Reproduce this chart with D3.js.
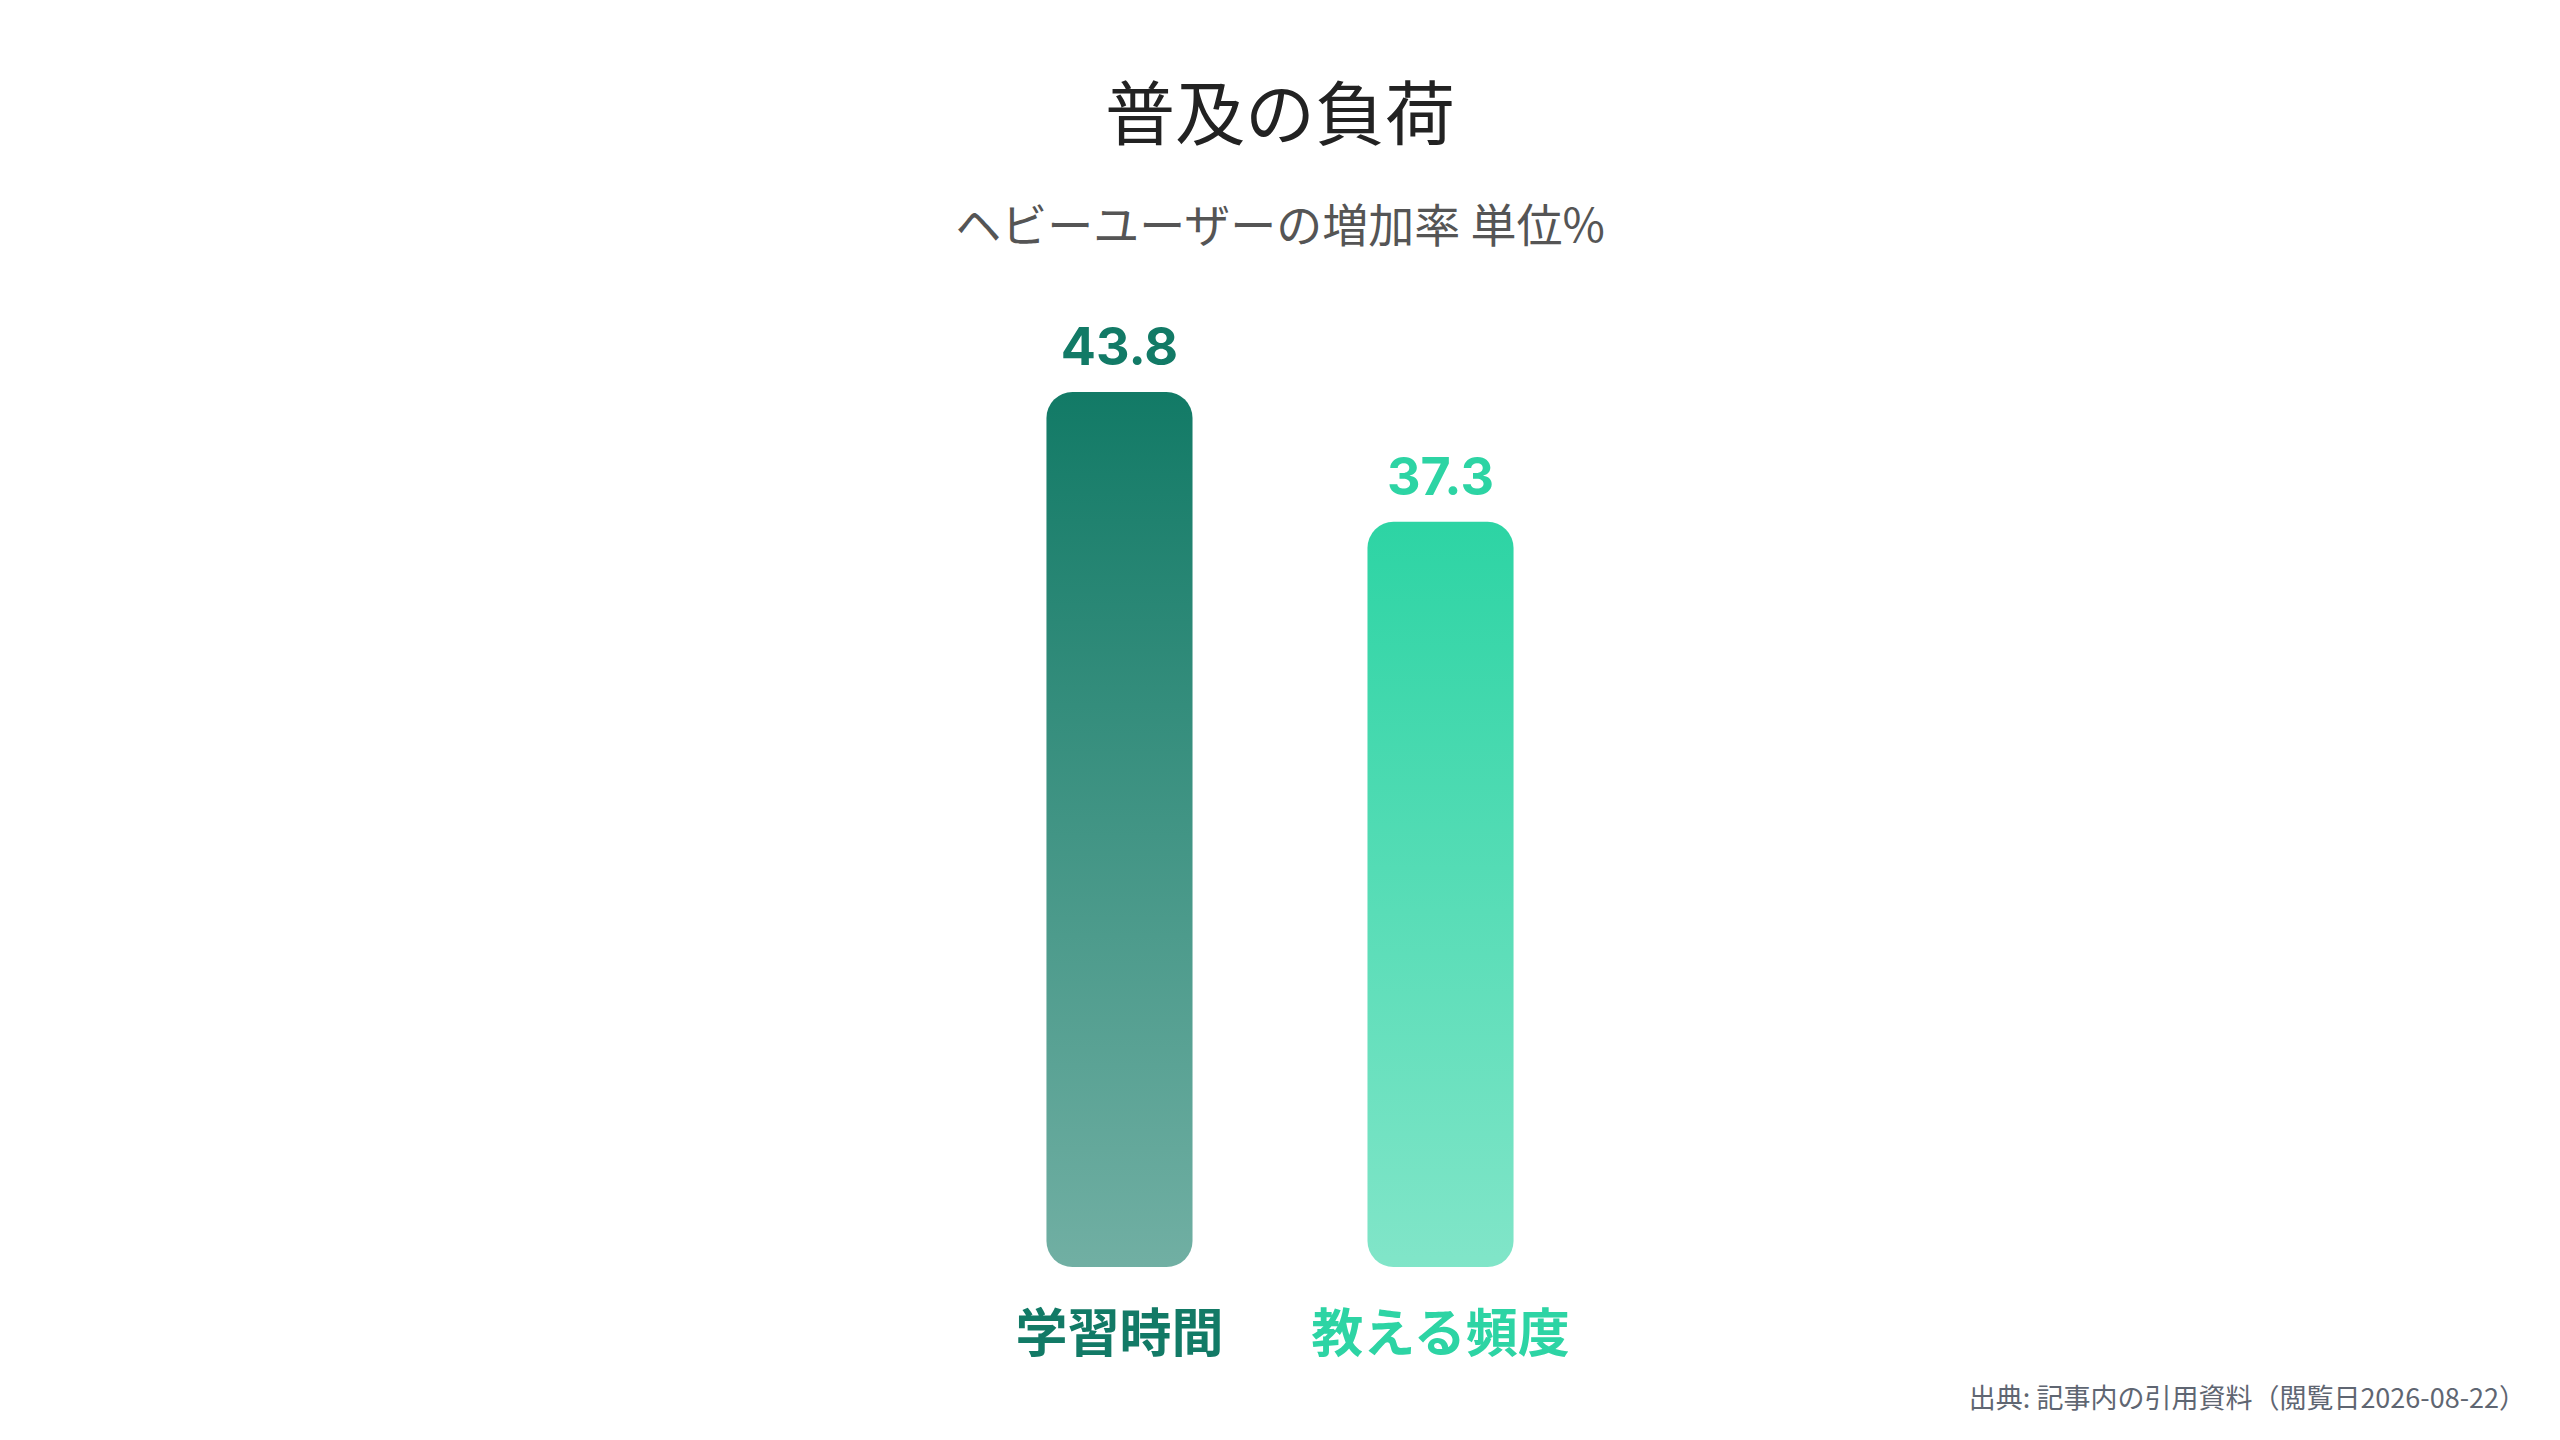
<!DOCTYPE html>
<html>
<head>
<meta charset="utf-8">
<script src="https://cdn.jsdelivr.net/npm/d3@7"></script>
<style>
  body { margin: 0; background: #fff; }
  text { font-family: "Noto Sans CJK JP", "Noto Sans", sans-serif; }
</style>
</head>
<body>
<div id="chart"></div>
<script>
var categories = ["学習時間", "教える頻度"];
var values = [43.8, 37.3];
var barColors = ["#127A66", "#2DD4A4"];

var width = 2560, height = 1440;

var svg = d3.select("#chart").append("svg")
  .attr("width", width)
  .attr("height", height);

var x = d3.scaleBand()
  .domain(categories)
  .range([871.5, 1688.5])
  .padding(0.545);

var y = d3.scaleLinear()
  .domain([0, 43.8])
  .range([1267, 392]);

// gradients, full colour at the top fading toward the bottom
var defs = svg.append("defs");
categories.forEach(function(c, i){
  var g = defs.append("linearGradient")
    .attr("id", "grad" + i)
    .attr("x1", 0).attr("y1", 0)
    .attr("x2", 0).attr("y2", 1);
  g.append("stop").attr("offset", "0%")
    .attr("stop-color", barColors[i]).attr("stop-opacity", 1);
  g.append("stop").attr("offset", "100%")
    .attr("stop-color", barColors[i]).attr("stop-opacity", 0.6);
});

svg.append("text")
  .attr("x", width / 2)
  .attr("y", 140)
  .attr("text-anchor", "middle")
  .style("font-size", "70px")
  .attr("fill", "#222")
  .text("普及の負荷");

svg.append("text")
  .attr("x", width / 2)
  .attr("y", 242)
  .attr("text-anchor", "middle")
  .style("font-size", "46px")
  .attr("fill", "#555")
  .text("ヘビーユーザーの増加率 単位%");

svg.selectAll("rect.bar")
  .data(values)
  .enter()
  .append("rect")
  .attr("class", "bar")
  .attr("x", function(d, i){ return x(categories[i]); })
  .attr("y", function(d){ return y(d); })
  .attr("width", x.bandwidth())
  .attr("height", function(d){ return y(0) - y(d); })
  .attr("rx", 26)
  .attr("ry", 26)
  .attr("fill", function(d, i){ return "url(#grad" + i + ")"; });

svg.selectAll("text.value")
  .data(values)
  .enter()
  .append("text")
  .attr("class", "value")
  .attr("x", function(d, i){ return x(categories[i]) + x.bandwidth() / 2; })
  .attr("y", function(d){ return y(d) - 27; })
  .attr("text-anchor", "middle")
  .style("font-family", "Inter, 'Noto Sans', sans-serif")
  .style("font-size", "52px")
  .attr("font-weight", "bold")
  .attr("fill", function(d, i){ return barColors[i]; })
  .text(function(d){ return d.toFixed(1); });

svg.selectAll("text.cat")
  .data(categories)
  .enter()
  .append("text")
  .attr("class", "cat")
  .attr("x", function(d){ return x(d) + x.bandwidth() / 2; })
  .attr("y", 1352)
  .attr("text-anchor", "middle")
  .style("font-size", "52px")
  .attr("font-weight", "bold")
  .attr("fill", function(d, i){ return barColors[i]; })
  .text(function(d){ return d; });

svg.append("text")
  .attr("x", 2526)
  .attr("y", 1408)
  .attr("text-anchor", "end")
  .style("font-size", "27px")
  .attr("fill", "#5f6672")
  .text("出典: 記事内の引用資料（閲覧日2026-08-22）");
</script>
</body>
</html>
